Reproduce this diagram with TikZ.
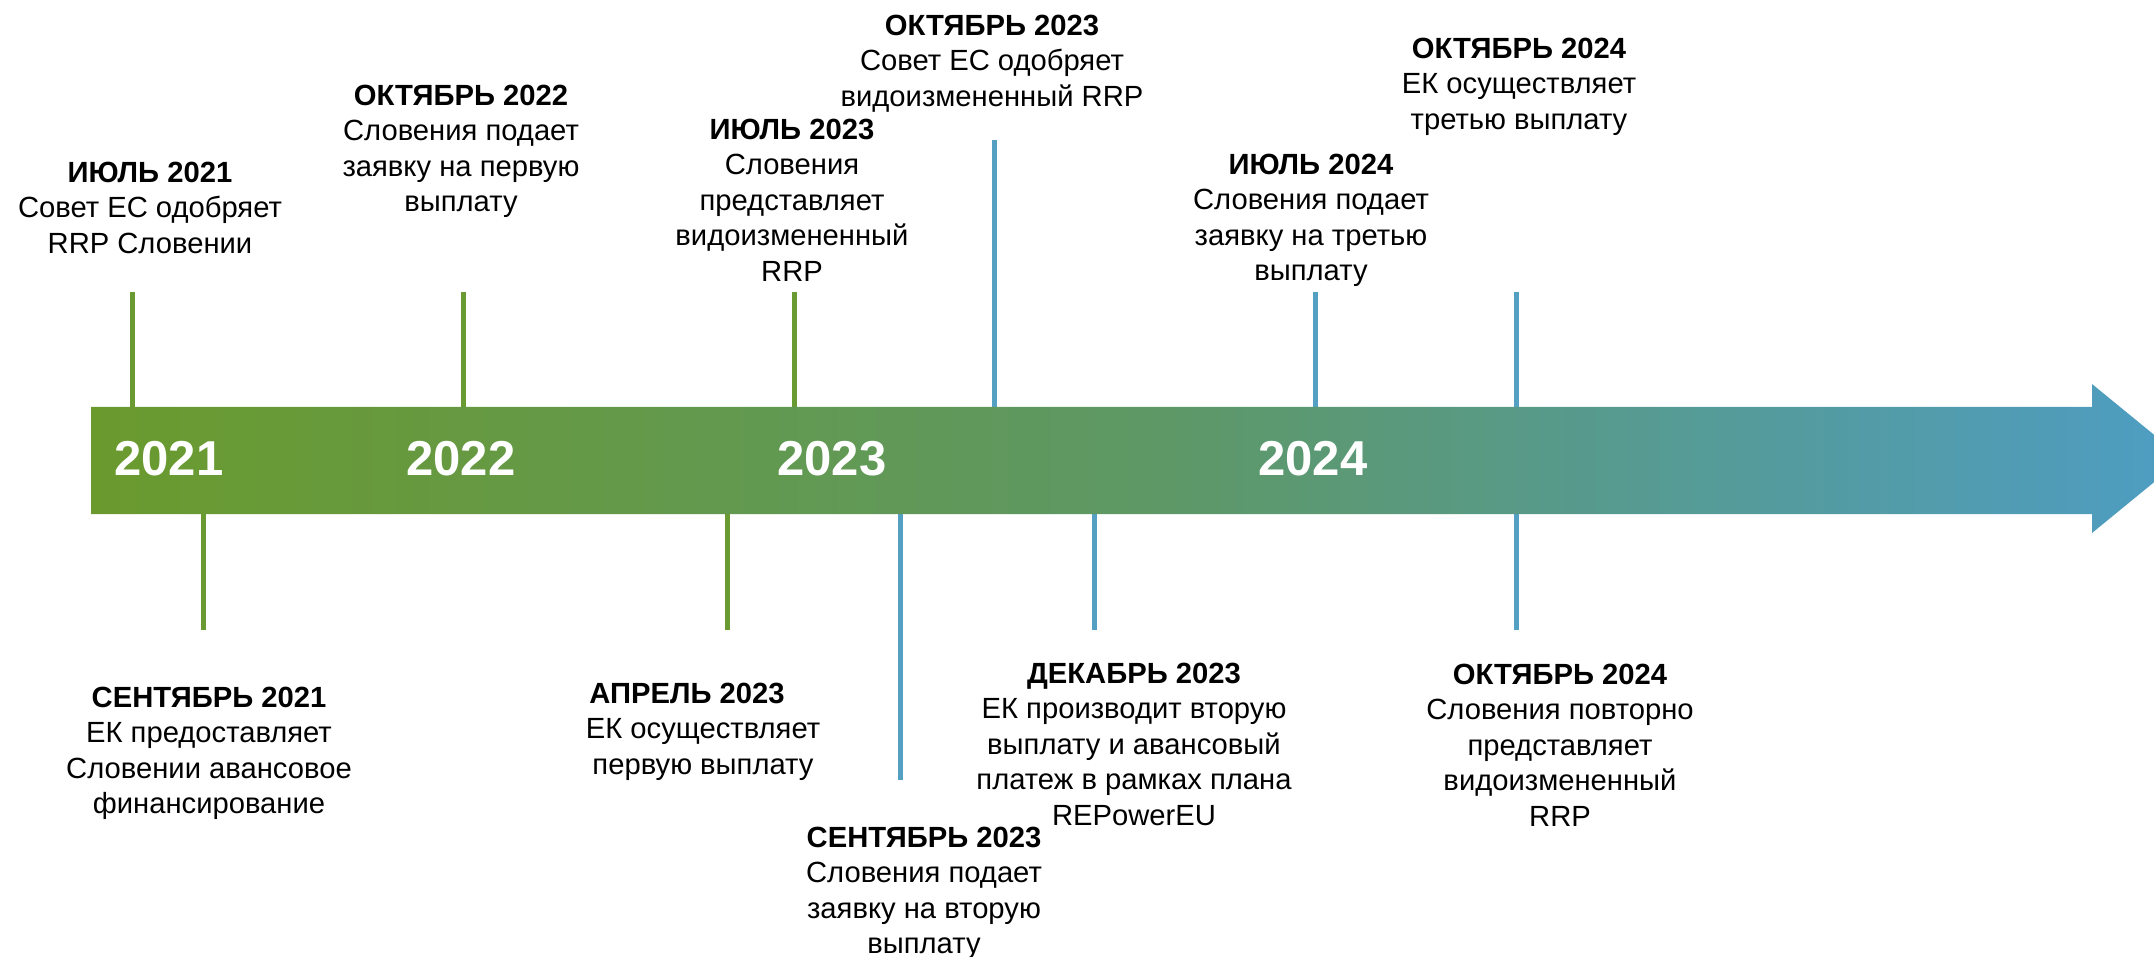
\documentclass[tikz,border=0pt]{standalone}
\usepackage{fontspec}
\setmainfont{Liberation Sans}
\definecolor{gstart}{RGB}{106,154,46}
\definecolor{gmid}{RGB}{94,152,100}
\definecolor{bend}{RGB}{78,157,195}
\definecolor{tickgreen}{RGB}{106,154,50}
\definecolor{tickblue}{RGB}{84,160,195}
\begin{document}
\begin{tikzpicture}[x=0.5pt,y=-0.5pt,
  evt/.style={align=center, inner sep=0pt, anchor=north, text=black,
    font=\fontsize{14.6}{17.75}\selectfont},
  tickg/.style={draw=tickgreen, line width=2.5pt},
  tickb/.style={draw=tickblue, line width=2.5pt},
  yr/.style={text=white, inner sep=0pt, font=\fontsize{24.5}{29}\selectfont\bfseries}]
\useasboundingbox (0,0) rectangle (2154,957);
\begin{scope}
\clip (0,0) rectangle (2154,957);
% ticks (drawn first, bar covers their ends)
\foreach \n/\x/\y/\s in {a/132/292/tickg, b/463/292/tickg, c/794/292/tickg, d/994/140/tickb, e/1315/292/tickb, f/1516/292/tickb}{
  \coordinate (u\n0) at (\x,410);
  \coordinate (u\n1) at (\x,\y);
  \draw[\s] (u\n0) -- (u\n1);
}
\foreach \n/\x/\y/\s in {g/203/630/tickg, h/727/630/tickg, i/900/780/tickb, j/1094/630/tickb, k/1516/630/tickb}{
  \coordinate (l\n0) at (\x,511);
  \coordinate (l\n1) at (\x,\y);
  \draw[\s] (l\n0) -- (l\n1);
}
% arrow bar
\shade[left color=gstart, right color=bend, middle color=gmid]
  (91,407) -- (2092,407) -- (2092,384) -- (2183,458.5) -- (2092,533) -- (2092,514) -- (91,514) -- cycle;
\end{scope}
% years
\node[yr] (y21) at (169,459) {2021};
\node[yr] (y22) at (461,459) {2022};
\node[yr] (y23) at (832,459) {2023};
\node[yr] (y24) at (1313,459) {2024};
% events above
\node[evt] (e1) at (150,161.5) {\textbf{ИЮЛЬ 2021}\\Совет ЕС одобряет\\RRP Словении};
\node[evt] (e2) at (461,84.5) {\textbf{ОКТЯБРЬ 2022}\\Словения подает\\заявку на первую\\выплату};
\node[evt] (e3) at (792,118.5) {\textbf{ИЮЛЬ 2023}\\Словения\\представляет\\видоизмененный\\RRP};
\node[evt] (e4) at (992,14.5) {\textbf{ОКТЯБРЬ 2023}\\Совет ЕС одобряет\\видоизмененный RRP};
\node[evt] (e5) at (1311,153.5) {\textbf{ИЮЛЬ 2024}\\Словения подает\\заявку на третью\\выплату};
\node[evt] (e6) at (1519,37.5) {\textbf{ОКТЯБРЬ 2024}\\ЕК осуществляет\\третью выплату};
% events below
\node[evt] (e7) at (209,686.5) {\textbf{СЕНТЯБРЬ 2021}\\ЕК предоставляет\\Словении авансовое\\финансирование};
\node[evt] (e8) at (703,682.5) {\hbox{\textbf{АПРЕЛЬ 2023}\hspace{16pt}}\\ЕК осуществляет\\первую выплату};
\node[evt] (e9) at (924,826.5) {\textbf{СЕНТЯБРЬ 2023}\\Словения подает\\заявку на вторую\\выплату};
\node[evt] (e10) at (1134,662.5) {\textbf{ДЕКАБРЬ 2023}\\ЕК производит вторую\\выплату и авансовый\\платеж в рамках плана\\REPowerEU};
\node[evt] (e11) at (1560,663.5) {\textbf{ОКТЯБРЬ 2024}\\Словения повторно\\представляет\\видоизмененный\\RRP};
\end{tikzpicture}
\end{document}
